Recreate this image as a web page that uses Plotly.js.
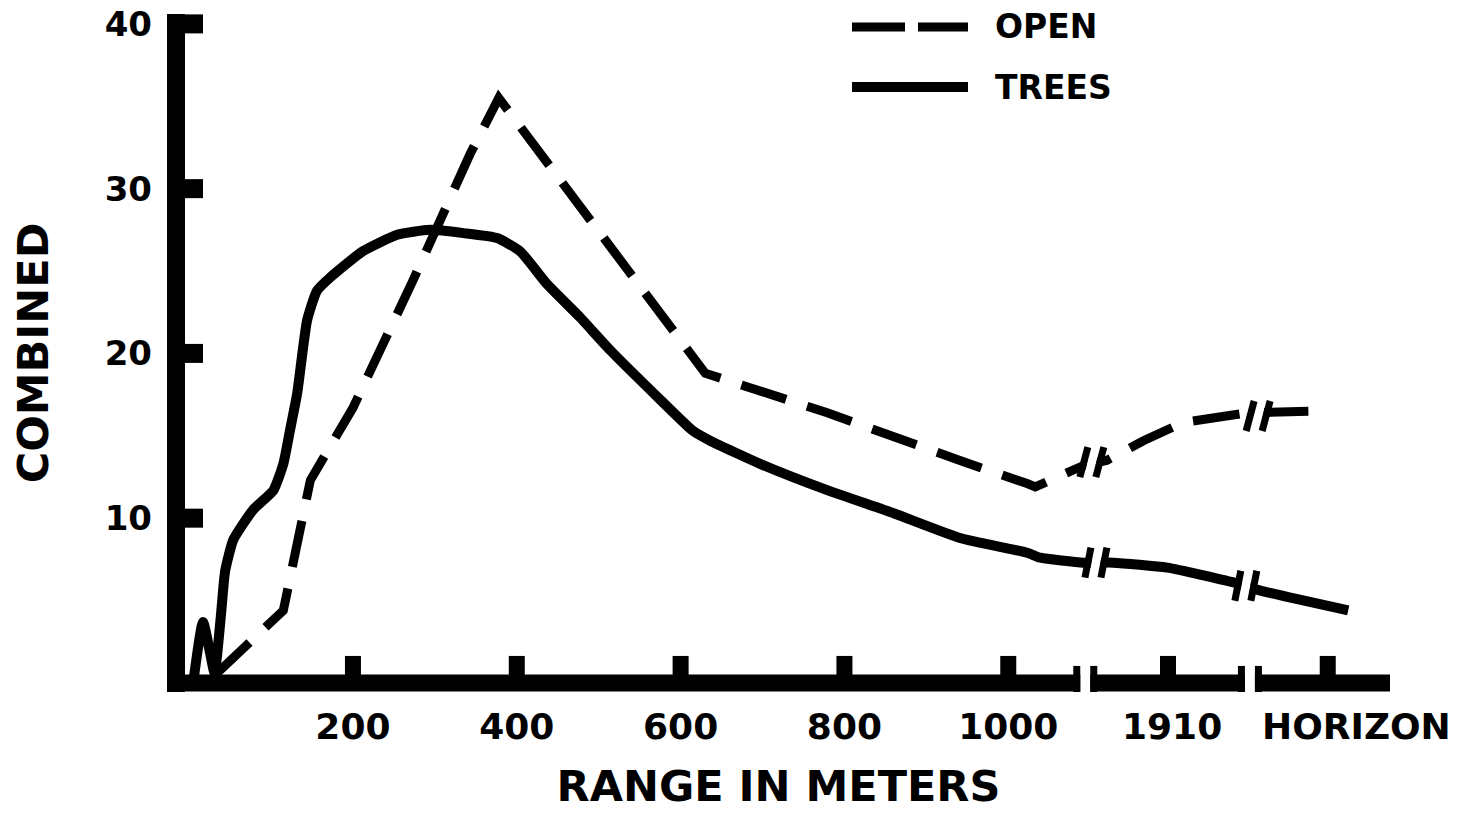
<!DOCTYPE html>
<html>
<head>
<meta charset="utf-8">
<script src="https://cdn.plot.ly/plotly-3.0.1.min.js"></script>
<style>html,body{margin:0;padding:0;background:#fff;}</style>
</head>
<body>
<div id="chart" style="width:1474px;height:814px;"></div>
<script>
// ---- data ----
const openX  = [32, 115, 148, 200, 273, 343, 378, 630, 779, 860, 941, 1023, 1033, 1092, 1120, 1165, 1213, 1292, 1377];
const openY  = [0.5, 4.4, 12.3, 16.7, 24.4, 32.1, 35.5, 18.8, 16.4, 14.9, 13.5, 12.1, 11.9, 13.2, 13.5, 14.7, 15.8, 16.4, 16.5];
const treesX = [5, 17, 31, 34, 39, 44, 54, 78, 103, 115, 123, 132, 144, 156, 172, 212, 254, 294, 335, 376, 404, 437, 477, 514, 575, 615, 636, 697, 779, 860, 941, 1023, 1039, 1092, 1128, 1194, 1275, 1308, 1415];
const treesY = [0, 3.7, 0.6, 1.6, 4.2, 6.8, 8.7, 10.5, 11.7, 13.3, 15.3, 17.6, 22.0, 23.8, 24.6, 26.2, 27.2, 27.5, 27.3, 27.0, 26.2, 24.2, 22.2, 20.2, 17.2, 15.3, 14.7, 13.3, 11.7, 10.3, 8.8, 7.9, 7.6, 7.3, 7.3, 7.0, 6.1, 5.6, 4.4];

const xTickVals  = [200, 400, 600, 800, 1000, 1200, 1425];
const xTickText  = ['200', '400', '600', '800', '1000', '1910', 'HORIZON'];
const xTickMarks = [200, 400, 600, 800, 1000, 1195, 1390];
const yTickVals  = [10, 20, 30, 40];
const yTickText  = ['10', '20', '30', '40'];

const axisBreakX  = [1094, 1295];
const treesBreakX = [1107, 1290];
const treesBreakY = [7.3, 5.9];
const openBreakX  = [1102, 1305];
const openBreakY  = [13.4, 16.2];

// ---- layout helpers ----
const W = 1474, H = 814;
const M = {l: 167, r: 84, t: 14, b: 122};
const XR = [-27, 1466], YR = [-0.55, 40.6];
const pxX = (XR[1] - XR[0]) / (W - M.l - M.r);   // data units per pixel (x)
const pxY = (YR[1] - YR[0]) / (H - M.t - M.b);   // data units per pixel (y)
const FONT = 'DejaVu Sans';
const shapes = [];

// y axis bar and ticks
shapes.push({type: 'rect', xref: 'x', yref: 'y', x0: XR[0], x1: XR[0] + 18 * pxX, y0: YR[0], y1: YR[1],
  fillcolor: '#000', line: {width: 0}, layer: 'above'});
yTickVals.forEach(v => shapes.push({type: 'rect', xref: 'x', yref: 'y', x0: XR[0] + 10 * pxX, x1: XR[0] + 36 * pxX,
  y0: v - 9.5 * pxY, y1: v + 9.5 * pxY, fillcolor: '#000', line: {width: 0}, layer: 'above'}));
// x axis bar and ticks
shapes.push({type: 'rect', xref: 'x', yref: 'y', x0: XR[0], x1: XR[1], y0: -8.5 * pxY, y1: 8.5 * pxY,
  fillcolor: '#000', line: {width: 0}, layer: 'above'});
xTickMarks.forEach(v => shapes.push({type: 'rect', xref: 'x', yref: 'y', x0: v - 8 * pxX, x1: v + 8 * pxX,
  y0: 0, y1: 27 * pxY, fillcolor: '#000', line: {width: 0}, layer: 'above'}));

// axis breaks
axisBreakX.forEach(bx => {
  shapes.push({type: 'rect', xref: 'x', yref: 'y', x0: bx - 5 * pxX, x1: bx + 5 * pxX, y0: -12 * pxY, y1: 12 * pxY,
    fillcolor: '#fff', line: {width: 0}, layer: 'above'});
  [-1, 1].forEach(s => shapes.push({type: 'rect', xref: 'x', yref: 'y',
    x0: bx + s * 5 * pxX, x1: bx + s * 12 * pxX, y0: -14 * pxY, y1: 17 * pxY,
    fillcolor: '#000', line: {width: 0}, layer: 'above'}));
});
// line breaks
function lineBreak(bx, by, tiltPx) {
  const t = tiltPx * pxX;
  shapes.push({type: 'line', xref: 'x', yref: 'y', x0: bx - t, x1: bx + t, y0: by - 20 * pxY, y1: by + 20 * pxY,
    line: {color: '#fff', width: 9}, layer: 'above'});
  [-1, 1].forEach(s => shapes.push({type: 'line', xref: 'x', yref: 'y',
    x0: bx + s * 8 * pxX - t, x1: bx + s * 8 * pxX + t, y0: by - 15 * pxY, y1: by + 15 * pxY,
    line: {color: '#000', width: 7}, layer: 'above'}));
}
treesBreakX.forEach((bx, i) => lineBreak(bx, treesBreakY[i], 3));
openBreakX.forEach((bx, i) => lineBreak(bx, openBreakY[i], 4));

// legend (drawn as shapes + text)
const paperX = px => (px - M.l) / (W - M.l - M.r);
const paperY = py => (H - M.b - py) / (H - M.t - M.b);
shapes.push({type: 'line', xref: 'paper', yref: 'paper', x0: paperX(852), x1: paperX(905), y0: paperY(27), y1: paperY(27), line: {color: '#000', width: 9}});
shapes.push({type: 'line', xref: 'paper', yref: 'paper', x0: paperX(918), x1: paperX(968), y0: paperY(27), y1: paperY(27), line: {color: '#000', width: 9}});
shapes.push({type: 'line', xref: 'paper', yref: 'paper', x0: paperX(852), x1: paperX(968), y0: paperY(87), y1: paperY(87), line: {color: '#000', width: 10}});

const annotations = [
  {text: 'OPEN', xref: 'paper', yref: 'paper', x: paperX(993), y: paperY(27), xanchor: 'left', yanchor: 'middle', showarrow: false,
   font: {family: FONT, size: 33, color: '#000', weight: 'bold'}},
  {text: 'TREES', xref: 'paper', yref: 'paper', x: paperX(993), y: paperY(87), xanchor: 'left', yanchor: 'middle', showarrow: false,
   font: {family: FONT, size: 33, color: '#000', weight: 'bold'}}
];

const traces = [
  {x: openX, y: openY, name: 'OPEN', type: 'scatter', mode: 'lines',
   line: {color: '#000', width: 9, dash: '47px,22px', shape: 'linear'}, showlegend: false, hoverinfo: 'skip'},
  {x: treesX, y: treesY, name: 'TREES', type: 'scatter', mode: 'lines',
   line: {color: '#000', width: 10, shape: 'spline', smoothing: 0.5}, showlegend: false, hoverinfo: 'skip'}
];

const layout = {
  width: W, height: H,
  margin: M,
  paper_bgcolor: '#fff', plot_bgcolor: '#fff',
  font: {family: FONT, color: '#000', weight: 'bold'},
  showlegend: false,
  xaxis: {range: XR, showgrid: false, zeroline: false, showline: false, ticks: '',
    tickmode: 'array', tickvals: xTickVals, ticktext: xTickText, ticklabelstandoff: 10,
    tickfont: {family: FONT, size: 36, color: '#000', weight: 'bold'},
    title: {text: 'RANGE IN METERS', standoff: 24, font: {family: FONT, size: 43, color: '#000', weight: 'bold'}}},
  yaxis: {range: YR, showgrid: false, zeroline: false, showline: false, ticks: '',
    tickmode: 'array', tickvals: yTickVals, ticktext: yTickText, ticklabelstandoff: 14,
    tickfont: {family: FONT, size: 34, color: '#000', weight: 'bold'},
    title: {text: 'COMBINED', standoff: 42, font: {family: FONT, size: 43, color: '#000', weight: 'bold'}}},
  shapes: shapes,
  annotations: annotations
};

Plotly.newPlot('chart', traces, layout, {displayModeBar: false, staticPlot: true});
</script>
</body>
</html>
